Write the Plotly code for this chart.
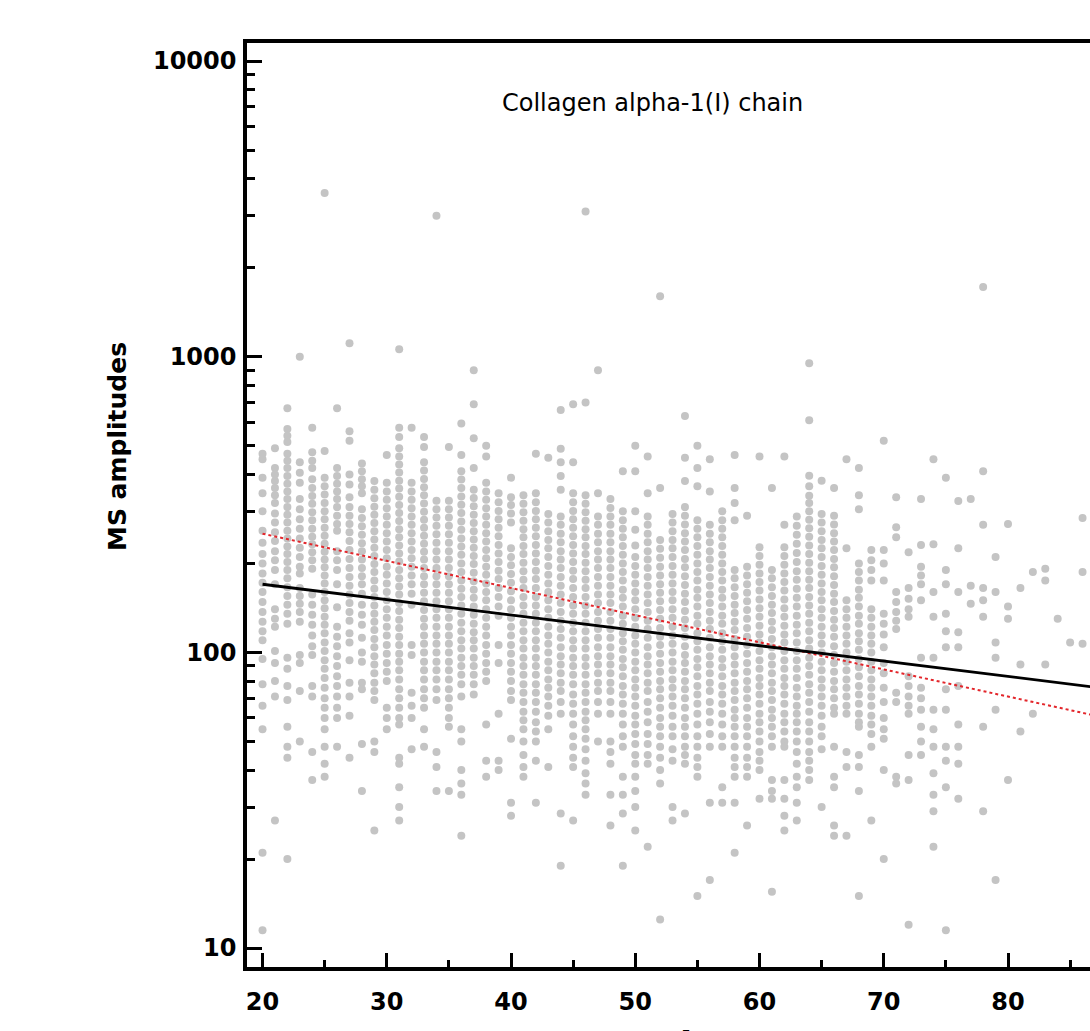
import plotly.graph_objects as go

# ---------------- data ----------------
ages = list(range(20, 87))

amplitudes = [
    [470, 450, 390, 345, 300, 258, 235, 215, 200, 185, 172, 160, 148, 137, 127, 118, 110, 95, 78, 66, 55, 21, 11.5],  # 20
    [490, 420, 400, 380, 360, 340, 320, 295, 275, 255, 238, 220, 205, 190, 170, 140, 130, 122, 101, 92, 80, 71, 27],  # 21
    [670, 570, 540, 515, 470, 445, 420, 395, 372, 350, 330, 310, 292, 275, 258, 243, 228, 215, 202, 190, 178, 166, 155, 145, 135, 125, 96, 88, 77, 69, 56, 48, 44, 20],  # 22
    [1000, 440, 405, 375, 330, 305, 282, 262, 243, 226, 210, 195, 185, 165, 155, 146, 137, 127, 98, 92, 74, 50],  # 23
    [575, 475, 445, 420, 385, 360, 338, 318, 298, 280, 262, 246, 232, 218, 205, 192, 157, 145, 134, 124, 114, 105, 98, 77, 71, 46, 37],  # 24
    [3580, 480, 390, 365, 342, 320, 300, 282, 264, 248, 233, 219, 206, 194, 182, 171, 160, 150, 141, 132, 124, 116, 108, 101, 94, 88, 82, 76, 70, 65, 60, 55, 48, 42, 38],  # 25
    [670, 420, 395, 372, 350, 330, 310, 290, 272, 258, 220, 205, 190, 170, 142, 122, 113, 105, 97, 90, 83, 77, 71, 65, 60, 48],  # 26
    [1110, 560, 520, 400, 370, 335, 310, 290, 272, 255, 238, 222, 207, 193, 180, 168, 157, 147, 137, 128, 116, 108, 94, 79, 71, 61, 44],  # 27
    [435, 410, 385, 365, 345, 305, 285, 267, 250, 234, 220, 206, 193, 181, 170, 158, 145, 134, 124, 112, 100, 93, 79, 75, 49, 34],  # 28
    [380, 355, 332, 311, 292, 274, 257, 241, 226, 212, 199, 187, 175, 164, 154, 144, 135, 127, 119, 111, 104, 97, 91, 85, 79, 74, 69, 50, 46, 25],  # 29
    [465, 375, 350, 328, 307, 288, 270, 253, 237, 222, 208, 195, 183, 171, 160, 150, 140, 131, 122, 114, 106, 99, 92, 86, 80, 65, 60, 55],  # 30
    [1060, 575, 535, 490, 460, 432, 406, 381, 358, 336, 315, 296, 278, 261, 245, 230, 216, 203, 190, 178, 167, 157, 147, 138, 129, 121, 113, 106, 99, 93, 87, 81, 75, 70, 65, 60, 57, 44, 42, 35, 30, 27],  # 31
    [575, 375, 350, 328, 307, 288, 270, 253, 237, 222, 208, 195, 182, 170, 158, 145, 106, 98, 73, 66, 60, 47],  # 32
    [535, 495, 440, 412, 386, 362, 340, 319, 299, 281, 264, 248, 233, 219, 206, 193, 181, 170, 159, 149, 139, 130, 122, 114, 107, 100, 93, 87, 81, 75, 70, 65, 55, 48],  # 33
    [3000, 326, 305, 286, 268, 251, 235, 220, 206, 193, 181, 170, 159, 149, 140, 131, 122, 114, 107, 100, 93, 87, 81, 75, 69, 46, 41, 34],  # 34
    [495, 326, 305, 286, 268, 251, 235, 220, 206, 193, 181, 170, 159, 149, 140, 131, 122, 114, 107, 100, 93, 87, 81, 75, 70, 65, 60, 56, 34],  # 35
    [595, 465, 410, 384, 360, 337, 316, 296, 277, 260, 243, 228, 214, 200, 187, 175, 164, 154, 144, 135, 126, 118, 110, 103, 96, 90, 84, 78, 71, 55, 50, 40, 36, 33, 24],  # 36
    [900, 690, 530, 420, 355, 333, 312, 292, 274, 257, 241, 226, 212, 199, 186, 174, 163, 153, 143, 134, 125, 117, 110, 103, 96, 90, 84, 78, 72],  # 37
    [500, 460, 375, 350, 328, 307, 288, 270, 253, 237, 222, 208, 195, 183, 171, 160, 150, 140, 131, 122, 114, 106, 99, 92, 86, 80, 57, 43, 38],  # 38
    [345, 322, 301, 282, 264, 247, 231, 216, 202, 189, 177, 165, 154, 143, 133, 106, 92, 62, 43, 40],  # 39
    [390, 335, 315, 295, 275, 225, 210, 197, 184, 172, 161, 150, 140, 131, 122, 114, 106, 99, 92, 86, 80, 74, 69, 51, 31, 28],  # 40
    [340, 318, 298, 279, 261, 245, 229, 215, 201, 188, 176, 165, 154, 144, 135, 126, 118, 110, 103, 96, 90, 84, 78, 73, 68, 63, 59, 55, 50, 45, 41, 38],  # 41
    [470, 345, 322, 301, 282, 264, 247, 231, 216, 202, 189, 177, 165, 154, 144, 135, 126, 118, 110, 103, 96, 90, 84, 78, 73, 68, 63, 58, 54, 50, 43, 31],  # 42
    [455, 294, 275, 257, 240, 225, 210, 196, 183, 171, 160, 150, 140, 131, 122, 114, 107, 100, 93, 87, 81, 76, 71, 66, 61, 55, 41],  # 43
    [660, 488, 440, 395, 355, 288, 270, 252, 236, 220, 206, 193, 180, 168, 157, 147, 137, 128, 120, 112, 104, 97, 91, 85, 79, 74, 68, 62, 28.5, 19],  # 44
    [690, 440, 345, 322, 301, 282, 264, 247, 231, 216, 202, 189, 177, 165, 154, 144, 135, 126, 118, 110, 103, 96, 90, 84, 78, 72, 67, 62, 57, 52, 48, 44, 41, 27],  # 45
    [3100, 700, 340, 318, 298, 279, 261, 245, 229, 215, 201, 188, 176, 165, 154, 144, 135, 126, 118, 110, 103, 96, 90, 84, 78, 73, 68, 63, 59, 55, 51, 47, 43, 39, 36, 33],  # 46
    [900, 345, 288, 270, 252, 236, 220, 206, 193, 180, 168, 157, 147, 137, 128, 120, 112, 104, 97, 91, 85, 79, 74, 68, 62, 50],  # 47
    [330, 308, 288, 270, 252, 236, 220, 206, 193, 180, 168, 157, 147, 137, 128, 120, 112, 104, 97, 91, 85, 79, 74, 68, 62, 50, 46, 42, 33, 26],  # 48
    [410, 300, 280, 262, 245, 229, 214, 200, 187, 175, 163, 153, 143, 133, 125, 116, 109, 102, 95, 89, 83, 77, 72, 67, 62, 57, 52, 48, 38, 33, 28.5, 19],  # 49
    [500, 410, 300, 260, 230, 210, 196, 183, 171, 160, 150, 140, 131, 122, 114, 107, 100, 93, 87, 81, 76, 71, 66, 61, 57, 53, 49, 45, 42, 38, 34, 30, 25],  # 50
    [460, 345, 288, 270, 252, 236, 220, 206, 193, 180, 168, 157, 147, 137, 128, 120, 112, 104, 97, 91, 85, 79, 74, 68, 63, 58, 53, 49, 45, 42, 22],  # 51
    [1600, 360, 240, 224, 209, 195, 182, 170, 159, 149, 139, 130, 121, 113, 106, 99, 92, 86, 80, 75, 70, 65, 60, 56, 52, 48, 44, 40, 36, 12.5],  # 52
    [294, 275, 257, 240, 225, 210, 196, 183, 171, 160, 150, 140, 131, 122, 114, 107, 100, 93, 87, 81, 76, 71, 66, 61, 56, 52, 47, 43, 30, 27],  # 53
    [630, 455, 380, 310, 290, 271, 253, 237, 222, 207, 194, 181, 169, 158, 148, 138, 129, 121, 113, 105, 98, 92, 86, 80, 75, 70, 65, 60, 56, 52, 48, 45, 42, 28.5],  # 54
    [500, 420, 365, 280, 262, 245, 229, 214, 200, 187, 175, 163, 153, 143, 133, 125, 116, 109, 102, 95, 89, 83, 77, 72, 67, 62, 57, 52, 48, 44, 41, 38, 15],  # 55
    [450, 350, 270, 252, 236, 220, 206, 193, 180, 168, 157, 147, 137, 128, 120, 112, 104, 97, 91, 85, 79, 74, 68, 63, 58, 53, 48, 31, 17],  # 56
    [300, 280, 262, 245, 229, 214, 200, 187, 175, 163, 153, 143, 133, 125, 116, 109, 102, 95, 89, 83, 77, 72, 67, 62, 57, 52, 48, 35, 31],  # 57
    [465, 360, 320, 280, 190, 178, 166, 155, 145, 136, 127, 119, 111, 104, 97, 91, 85, 79, 74, 69, 64, 60, 56, 52, 48, 44, 41, 38, 31, 21],  # 58
    [290, 195, 182, 170, 159, 149, 139, 130, 121, 113, 106, 99, 92, 86, 80, 75, 70, 65, 60, 56, 52, 48, 44, 41, 38, 26],  # 59
    [460, 227, 212, 198, 185, 173, 162, 151, 141, 132, 123, 115, 108, 101, 94, 88, 82, 77, 72, 67, 62, 58, 54, 50, 46, 43, 40, 32],  # 60
    [360, 190, 178, 166, 155, 145, 136, 127, 119, 111, 104, 97, 91, 85, 79, 74, 69, 64, 60, 56, 52, 48, 37, 34, 32, 15.5],  # 61
    [460, 270, 227, 212, 198, 185, 173, 162, 151, 141, 132, 123, 115, 108, 101, 94, 88, 82, 77, 72, 67, 62, 58, 54, 50, 48, 37, 32, 28, 25],  # 62
    [288, 268, 250, 233, 217, 202, 188, 176, 164, 153, 143, 133, 124, 116, 108, 101, 94, 88, 82, 76, 71, 66, 62, 58, 54, 50, 46, 42, 38, 35, 31, 27],  # 63
    [950, 610, 396, 365, 339, 320, 300, 281, 263, 246, 230, 215, 201, 188, 176, 165, 154, 144, 135, 126, 118, 110, 103, 96, 90, 84, 78, 73, 68, 63, 58, 54, 50, 46, 43, 40, 37],  # 64
    [381, 294, 275, 257, 240, 225, 210, 196, 183, 171, 160, 150, 140, 131, 122, 114, 107, 100, 93, 87, 81, 76, 71, 66, 61, 56, 52, 47, 30],  # 65
    [360, 290, 271, 253, 237, 222, 207, 194, 181, 169, 158, 148, 138, 129, 121, 113, 105, 98, 92, 86, 80, 75, 70, 65, 62, 48, 38, 35, 26, 24],  # 66
    [450, 225, 150, 140, 131, 122, 114, 107, 100, 93, 87, 81, 76, 71, 66, 62, 46, 41, 24],  # 67
    [420, 340, 305, 200, 187, 175, 163, 153, 143, 133, 125, 116, 109, 102, 95, 89, 83, 77, 72, 67, 62, 58, 56, 45, 41, 34, 15],  # 68
    [222, 205, 190, 175, 140, 131, 122, 114, 107, 100, 93, 87, 81, 76, 71, 66, 61, 57, 53, 48, 27],  # 69
    [520, 222, 200, 175, 135, 125, 115, 104, 92, 85, 76, 68, 60, 55, 51, 40, 20],  # 70
    [335, 265, 245, 160, 148, 137, 128, 120, 73, 68, 38, 36],  # 71
    [218, 165, 152, 140, 132, 83, 77, 71, 66, 62, 45, 37, 12],  # 72
    [330, 231, 195, 182, 170, 150, 96, 76, 70, 64, 56, 50, 45],  # 73
    [450, 232, 160, 132, 96, 64, 55, 48, 39, 33, 29, 22],  # 74
    [390, 190, 170, 135, 118, 104, 75, 64, 48, 43, 35, 11.5],  # 75
    [325, 225, 160, 117, 104, 77, 57, 48, 42, 32],  # 76
    [330, 168, 146],  # 77
    [1720, 410, 270, 165, 150, 132, 56, 29],  # 78
    [210, 160, 108, 96, 64, 17],  # 79
    [272, 143, 130, 37],  # 80
    [165, 91, 54],  # 81
    [187, 62],  # 82
    [192, 175, 91],  # 83
    [130],  # 84
    [108],  # 85
    [285, 187, 107],  # 86
]

# regression lines (end points)
fit_ages = [20, 90]
fit_black = [170, 73.6]
fit_red = [252, 57.4]

x_ticks = [20, 30, 40, 50, 60, 70, 80]
x_minor = [25, 35, 45, 55, 65, 75, 85]
y_ticks = [10, 100, 1000, 10000]
y_tick_text = ["10", "100", "1000", "10000"]
y_minor = [m * d for d in (10, 100, 1000) for m in range(2, 10)]

title_text = "Collagen alpha-1(I) chain"
y_title = "MS amplitudes"
x_title = "Age"

# ---------------- figure ----------------
px_x, px_y = [], []
for a, vals in zip(ages, amplitudes):
    for v in vals:
        px_x.append(a)
        px_y.append(v)

fig = go.Figure()
fig.add_trace(go.Scatter(
    x=px_x, y=px_y, mode="markers",
    marker=dict(color="#c4c4c4", size=8, line=dict(width=0)),
    hoverinfo="skip"))
fig.add_trace(go.Scatter(
    x=fit_ages, y=fit_red, mode="lines",
    line=dict(color="#e3262b", width=2, dash="dot")))
fig.add_trace(go.Scatter(
    x=fit_ages, y=fit_black, mode="lines",
    line=dict(color="black", width=2.8)))

W, H = 1090, 1031
L, R, T, B = 247, 0, 43, 64
pw, ph = W - L - R, H - T - B

tickfont = dict(family="DejaVu Sans", size=24, color="black", weight="bold")

fig.update_xaxes(
    range=[18.75, 86.6], tickvals=x_ticks, ticktext=[str(t) for t in x_ticks],
    ticks="inside", ticklen=14, tickwidth=3, tickcolor="black",
    showline=True, linewidth=3.5, linecolor="black", mirror=True,
    showgrid=False, zeroline=False, tickfont=tickfont, ticklabelstandoff=10,
    minor=dict(tickvals=x_minor, ticks="inside", ticklen=7, tickwidth=2.5,
               tickcolor="black", showgrid=False))
fig.update_yaxes(
    type="log", range=[0.936, 4.061], tickvals=y_ticks, ticktext=y_tick_text,
    ticks="inside", ticklen=15, tickwidth=3, tickcolor="black",
    showline=True, linewidth=3.5, linecolor="black", mirror=False,
    showgrid=False, zeroline=False, tickfont=tickfont, ticklabelstandoff=2,
    minor=dict(tickvals=y_minor, ticks="inside", ticklen=8, tickwidth=2.5,
               tickcolor="black", showgrid=False))

fig.add_annotation(
    text=title_text, xref="paper", yref="paper",
    x=(652 - L) / pw, y=(H - B - 103) / ph, xanchor="center", yanchor="middle",
    showarrow=False, font=dict(family="DejaVu Sans", size=24, color="black"))
fig.add_annotation(
    text=y_title, xref="paper", yref="paper",
    x=(118 - L) / pw, y=(H - B - 447) / ph, xanchor="center", yanchor="middle",
    textangle=-90, showarrow=False,
    font=dict(family="DejaVu Sans", size=25, color="black", weight="bold"))
# x-axis title: cut off by the bottom edge in the reference (only its top shows)
fig.add_annotation(
    text=x_title, xref="paper", yref="paper",
    x=(674 - L) / pw, y=-(1024 - (H - B)) / ph, xanchor="left", yanchor="top",
    showarrow=False,
    font=dict(family="DejaVu Sans", size=26, color="black", weight="bold"))

fig.update_layout(
    width=W, height=H, margin=dict(l=L, r=R, t=T, b=B, pad=0),
    paper_bgcolor="white", plot_bgcolor="white", showlegend=False)

fig.write_html("out.html", config={"displayModeBar": False},
               post_script="document.body.style.margin='0';document.body.style.overflow='hidden';")
